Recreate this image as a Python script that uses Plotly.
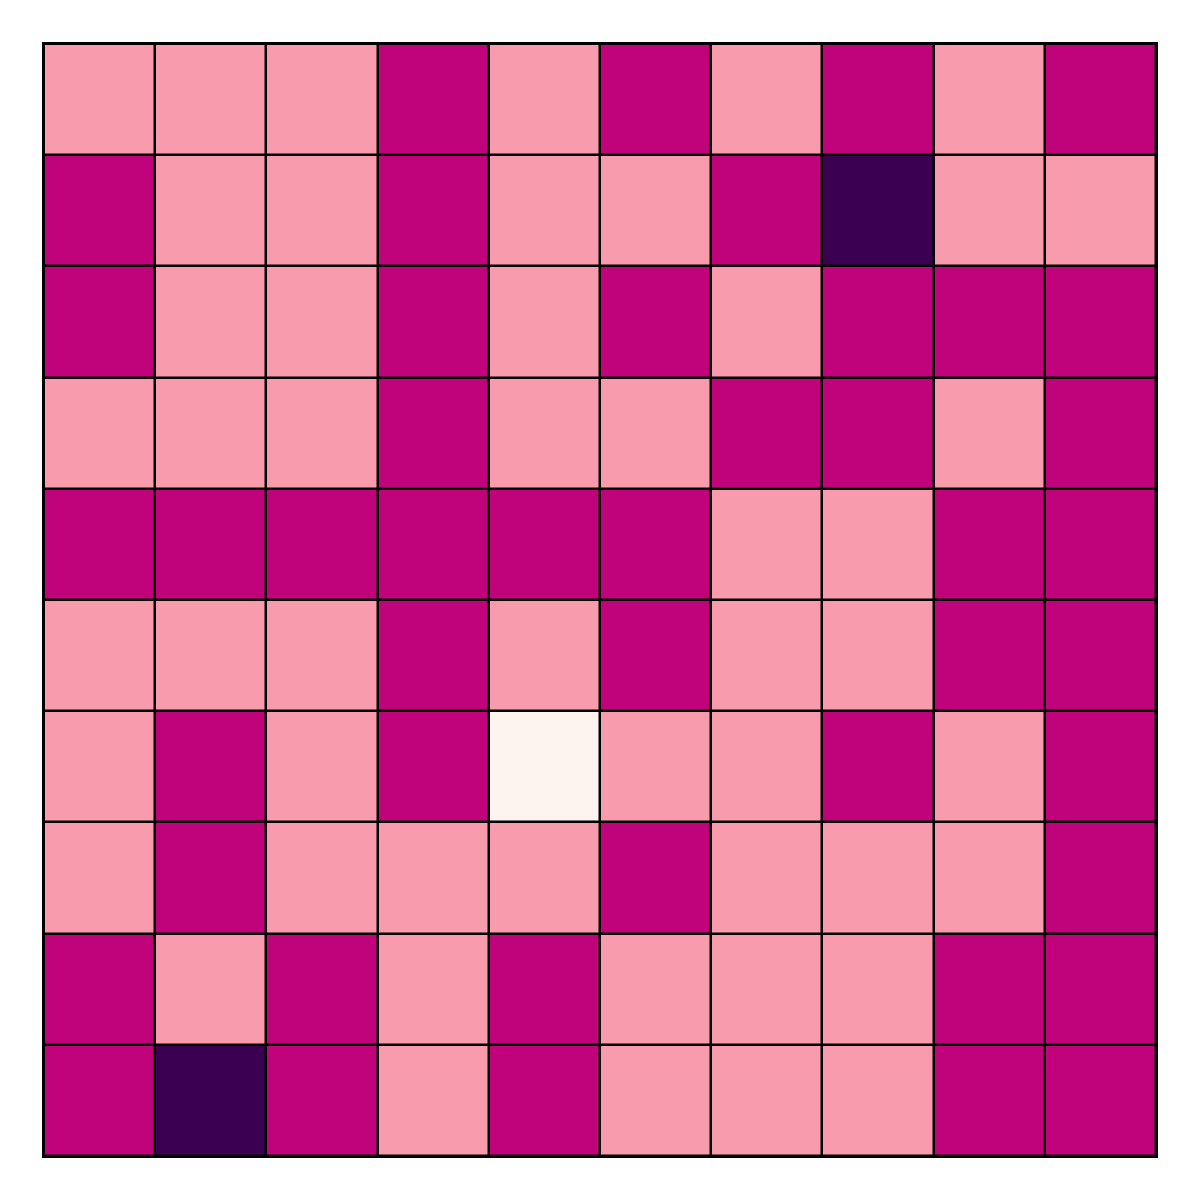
import plotly.graph_objects as go

rows = [
    "LLLMLMLMLM",
    "MLLMLLMDLL",
    "MLLMLMLMMM",
    "LLLMLLMMLM",
    "MMMMMMLLMM",
    "LLLMLMLLMM",
    "LMLMWLLMLM",
    "LMLLLMLLLM",
    "MLMLMLLLMM",
    "MDMLMLLLMM",
]
code = {"W": 0, "L": 1, "M": 2, "D": 3}
z = [[code[c] for c in r] for r in rows]
x_labels = list(range(10))
y_labels = list(range(10))

colors = ["#fdf4ef", "#f79bad", "#c0037b", "#3b0052"]
cs = []
for i, c in enumerate(colors):
    cs.append([i / 4, c])
    cs.append([(i + 1) / 4, c])

fig = go.Figure(go.Heatmap(
    z=z, x=x_labels, y=y_labels, zmin=-0.5, zmax=3.5,
    colorscale=cs, showscale=False, xgap=2.5, ygap=2.5,
))
fig.update_layout(
    width=1200, height=1200,
    margin=dict(l=44, r=44, t=44, b=44),
    plot_bgcolor="black", paper_bgcolor="white",
    xaxis=dict(showticklabels=False, showgrid=False, zeroline=False, ticks="",
               showline=True, linecolor="black", linewidth=2, mirror=True,
               range=[-0.5, 9.5]),
    yaxis=dict(showticklabels=False, showgrid=False, zeroline=False, ticks="",
               autorange="reversed", showline=True, linecolor="black",
               linewidth=2, mirror=True),
)
fig.write_html("out.html")
